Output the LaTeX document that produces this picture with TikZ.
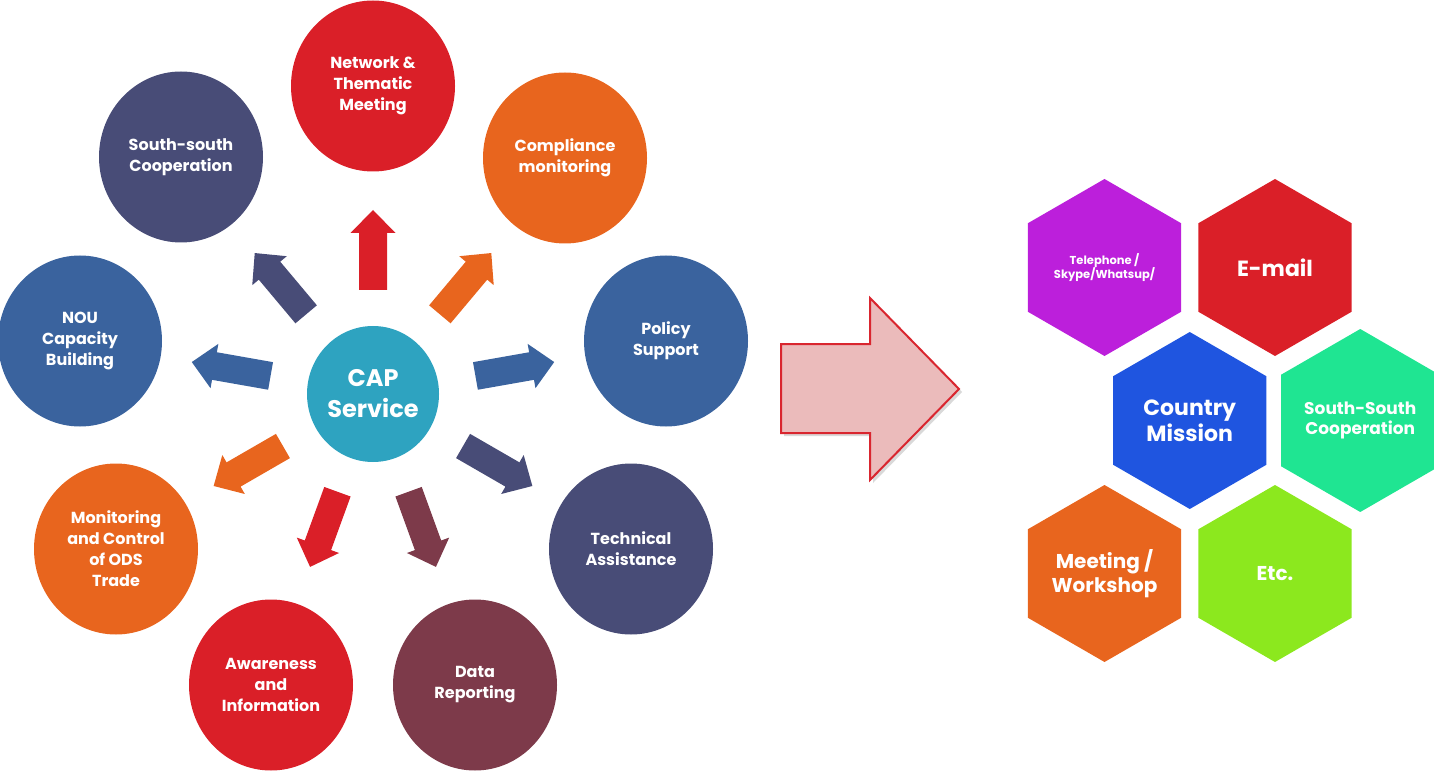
\documentclass[tikz,border=0pt]{standalone}
\usepackage{fontspec}
\setmainfont{Poppins}
\usetikzlibrary{positioning}
\usetikzlibrary{shapes.geometric}
\usetikzlibrary{shadows}

\definecolor{capteal}{RGB}{46,163,192}
\definecolor{topicred}{RGB}{218,31,40}
\definecolor{topicnavy}{RGB}{72,76,119}
\definecolor{topicorange}{RGB}{232,101,30}
\definecolor{topicblue}{RGB}{58,99,158}
\definecolor{topicmaroon}{RGB}{125,58,74}
\definecolor{hexpurple}{RGB}{188,31,219}
\definecolor{hexblue}{RGB}{31,85,224}
\definecolor{hexgreen}{RGB}{31,229,146}
\definecolor{hexlime}{RGB}{140,232,30}
\definecolor{bigpink}{RGB}{235,187,187}
\definecolor{bigred}{RGB}{217,38,47}

\tikzset{
  topic/.style={ellipse, minimum width=164pt, minimum height=171pt, inner sep=0pt,
    text=white, align=center, font=\fontsize{16}{21}\selectfont\bfseries},
  hex/.style={regular polygon, regular polygon sides=6, shape border rotate=30,
    minimum size=177pt, inner sep=0pt, text=white, align=center, font=\bfseries},
  blockarrow/.pic={\fill (0,-14) -- (57,-14) -- (57,-22.5) -- (80,0) -- (57,22.5) -- (57,14) -- (0,14) -- cycle;}
}

\begin{document}
\begin{tikzpicture}[x=1pt, y=1pt, on grid]
\useasboundingbox (0,0) rectangle (1434,-775);

\node (CAP) at (373, -394) [ellipse, minimum width=132pt, minimum height=136pt, inner sep=0pt, fill=capteal, text=white, align=center, font=\fontsize{24}{31}\selectfont\bfseries] {CAP\\ Service};

\node (NET) at (373, -86) [topic, fill=topicred] {Network \&\\ Thematic\\ Meeting};
\node (CMP) at (565, -158) [topic, fill=topicorange] {Compliance\\ monitoring};
\node (POL) at (666, -341) [topic, fill=topicblue] {Policy\\ Support};
\node (TEC) at (631, -549) [topic, fill=topicnavy] {Technical\\ Assistance};
\node (DAT) at (475, -685) [topic, fill=topicmaroon] {Data\\ Reporting};
\node (AWA) at (271, -685) [topic, fill=topicred] {Awareness\\ and\\ Information};
\node (MON) at (116, -549) [topic, fill=topicorange] {Monitoring\\ and Control\\ of ODS\\ Trade};
\node (NOU) at (80, -341) [topic, fill=topicblue] {NOU\\ Capacity\\ Building};
\node (SSC) at (181, -157) [topic, fill=topicnavy] {South-south\\ Cooperation};

\pic[rotate=90, fill=topicred] at ([shift={(90:104)}]CAP) {blockarrow};
\pic[rotate=50, fill=topicorange] at ([shift={(50:104)}]CAP) {blockarrow};
\pic[rotate=10, fill=topicblue] at ([shift={(10:104)}]CAP) {blockarrow};
\pic[rotate=-30, fill=topicnavy] at ([shift={(-30:104)}]CAP) {blockarrow};
\pic[rotate=-70, fill=topicmaroon] at ([shift={(-70:104)}]CAP) {blockarrow};
\pic[rotate=-110, fill=topicred] at ([shift={(-110:104)}]CAP) {blockarrow};
\pic[rotate=-150, fill=topicorange] at ([shift={(-150:104)}]CAP) {blockarrow};
\pic[rotate=170, fill=topicblue] at ([shift={(170:104)}]CAP) {blockarrow};
\pic[rotate=130, fill=topicnavy] at ([shift={(130:104)}]CAP) {blockarrow};

\draw[fill=bigpink, draw=bigred, line width=2pt, drop shadow={opacity=0.3, shadow xshift=3pt, shadow yshift=-3pt}]
  (781, -344) -- (870, -344) -- (870, -298) -- (959, -389) -- (870, -480) -- (870, -433) -- (781, -433) -- cycle;

\node (TEL) at (1104.5, -267.5) [hex, fill=hexpurple, font=\fontsize{11.5}{14}\selectfont\bfseries] {Telephone /\\ Skype/Whatsup/};
\node (EML) [right=170.5pt of TEL, hex, fill=topicred, font=\fontsize{22}{26}\selectfont\bfseries] {E-mail};
\node (CTY) [below right=153pt and 85.25pt of TEL, hex, fill=hexblue, font=\fontsize{22}{26}\selectfont\bfseries] {Country\\ Mission};
\node (SOU) [right=170.5pt of CTY, hex, fill=hexgreen, font=\fontsize{17}{20}\selectfont\bfseries] {South-South\\ Cooperation};
\node (MTG) [below=306pt of TEL, hex, fill=topicorange, font=\fontsize{20}{24}\selectfont\bfseries] {Meeting /\\ Workshop};
\node (ETC) [right=170.5pt of MTG, hex, fill=hexlime, font=\fontsize{20}{24}\selectfont\bfseries] {Etc.};
\end{tikzpicture}
\end{document}
